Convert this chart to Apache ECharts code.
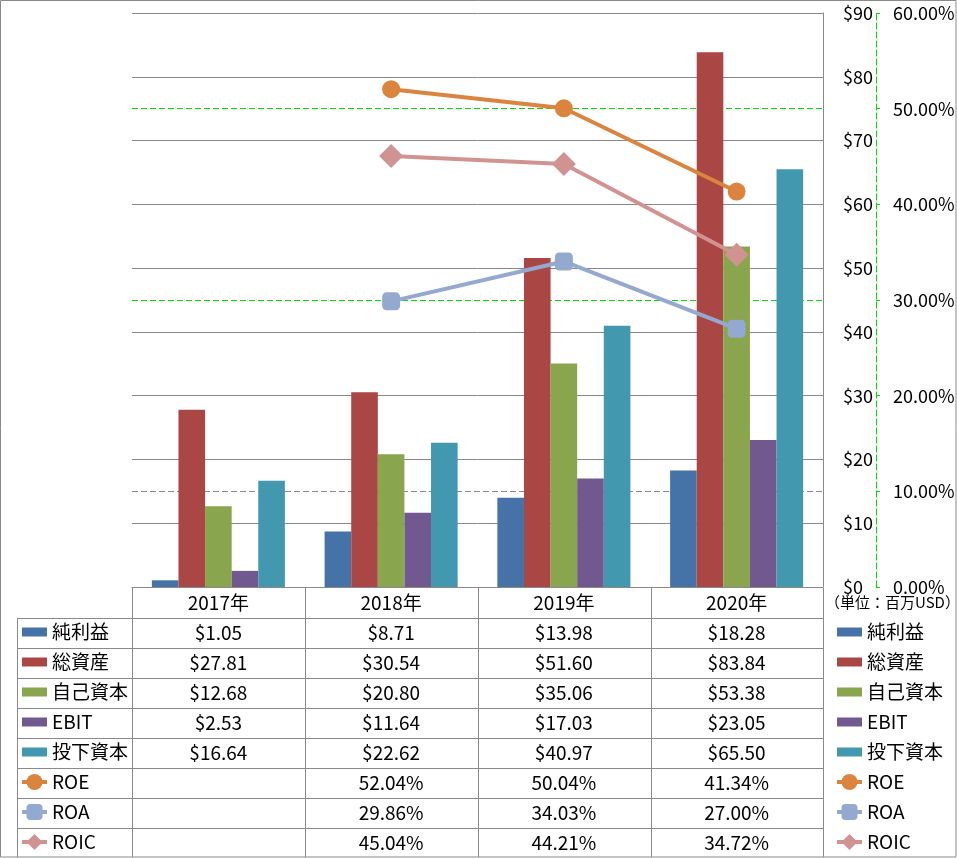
<!DOCTYPE html>
<html><head><meta charset="utf-8">
<script src="https://cdn.jsdelivr.net/npm/echarts@6/dist/echarts.min.js"></script>
<style>html,body{margin:0;padding:0;background:#fff}#c{width:957px;height:858px}</style>
</head><body><div id="c"></div>
<script>
const years = ['2017年','2018年','2019年','2020年'];
const netIncome = [1.05, 8.71, 13.98, 18.28];
const totalAssets = [27.81, 30.54, 51.60, 83.84];
const equity = [12.68, 20.80, 35.06, 53.38];
const ebit = [2.53, 11.64, 17.03, 23.05];
const investedCapital = [16.64, 22.62, 40.97, 65.50];
const roe = [null, 52.04, 50.04, 41.34];
const roa = [null, 29.86, 34.03, 27.00];
const roic = [null, 45.04, 44.21, 34.72];
const usdTicks = [0,10,20,30,40,50,60,70,80,90];
const pctTicks = [0,10,20,30,40,50,60];
const unitLabel = '（単位：百万USD）';

const FONT = '"Noto Sans CJK JP", "Noto Sans", sans-serif';
const GRAY = '#898989';
const GREEN = '#00DD00';
const colors = ['#4572A7','#AA4643','#89A54E','#71588F','#4198AF','#DB843D','#93A9CF','#D19392'];

const barSeries = [
  ['純利益', netIncome], ['総資産', totalAssets], ['自己資本', equity],
  ['EBIT', ebit], ['投下資本', investedCapital]
];
const lineSeries = [
  ['ROE', roe, 'circle', 18], ['ROA', roa, 'roundRect', 18], ['ROIC', roic, 'diamond', 24]
];

const money = v => '$' + v.toFixed(2);
const pct = v => v.toFixed(2) + '%';

function columnText(value, idx) {
  const lines = [value];
  barSeries.forEach(s => lines.push(money(s[1][idx])));
  lineSeries.forEach(s => lines.push(s[1][idx] == null ? ' ' : pct(s[1][idx])));
  return lines.join('\n');
}

const series = [];
barSeries.forEach((s, i) => series.push({
  name: s[0], type: 'bar', data: s[1], yAxisIndex: 0,
  barGap: '0%', barCategoryGap: '23%',
  itemStyle: { color: colors[i] }
}));
lineSeries.forEach((s, i) => series.push({
  name: s[0], type: 'line', data: s[1], yAxisIndex: 1,
  symbol: s[2], symbolSize: s[3], showSymbol: true, z: 5,
  lineStyle: { width: 4, color: colors[5 + i] },
  itemStyle: { color: colors[5 + i] }
}));

const allNames = barSeries.map(s => s[0]).concat(lineSeries.map(s => s[0]));
const legendData = allNames.map((n, i) => i < 5 ? { name: n, icon: 'path://M0 0H25V9H0Z' } : { name: n });

// table grid lines
const graphics = [];
const L = (x1, y1, x2, y2) => graphics.push({
  type: 'line', silent: true, z: 10,
  shape: { x1, y1, x2, y2 }, style: { stroke: GRAY, lineWidth: 1 }
});
const rowY = [618, 648, 678, 708, 738, 768, 798, 828];
rowY.forEach(y => L(17, y + 0.5, 823, y + 0.5));
L(17.5, 618, 17.5, 857);
[132, 305, 478, 651, 823].forEach(x => L(x + 0.5, 588, x + 0.5, 857));
graphics.push({ type: 'rect', silent: true, z: 10,
  shape: { x: 0.5, y: 0.5, width: 955.5, height: 856.5 },
  style: { fill: 'none', stroke: GRAY, lineWidth: 1 } });
graphics.push({ type: 'text', silent: true, left: 825, top: 595,
  style: { text: unitLabel, font: '15px ' + FONT, fill: '#000' } });

const legendCommon = {
  orient: 'vertical', top: 622, itemWidth: 25, itemHeight: 20, itemGap: 10, padding: 0,
  data: legendData, selectedMode: false,
  lineStyle: { width: 4 },
  textStyle: { fontSize: 19, fontFamily: FONT, color: '#000', lineHeight: 20 }
};

const option = {
  animation: false,
  textStyle: { fontFamily: FONT },
  grid: { left: 132, right: 134, top: 13, bottom: 271, containLabel: false, outerBoundsMode: 'none' },
  legend: [
    Object.assign({ left: 20 }, legendCommon),
    Object.assign({ left: 835 }, legendCommon)
  ],
  xAxis: {
    type: 'category', data: years,
    axisLine: { lineStyle: { color: GRAY } },
    axisTick: { show: false },
    axisLabel: {
      margin: 1, interval: 0, formatter: columnText,
      fontSize: 19, lineHeight: 30, color: '#000', fontFamily: FONT
    }
  },
  yAxis: [
    {
      type: 'value', position: 'right', min: usdTicks[0], max: usdTicks[usdTicks.length - 1], interval: 10,
      axisLine: { show: true, lineStyle: { color: GRAY } },
      axisTick: { show: false },
      axisLabel: { margin: 20, fontSize: 18, color: '#000', fontFamily: FONT, formatter: v => '$' + v },
      splitLine: { show: true, lineStyle: { color: GRAY, width: 1 } }
    },
    {
      type: 'value', position: 'right', offset: 53, min: pctTicks[0], max: pctTicks[pctTicks.length - 1], interval: 10,
      axisLine: { show: true, lineStyle: { color: GREEN, type: [6, 3] } },
      axisTick: { show: true, length: 4, lineStyle: { color: GREEN } },
      axisLabel: { margin: 17, fontSize: 18, color: '#000', fontFamily: FONT, formatter: v => v.toFixed(2) + '%' },
      splitLine: { show: true, lineStyle: {
        color: ['rgba(0,0,0,0)', GRAY, 'rgba(0,0,0,0)', GREEN, 'rgba(0,0,0,0)', GREEN, 'rgba(0,0,0,0)'],
        type: [6, 3], width: 1 } }
    }
  ],
  series: series,
  graphic: graphics
};

const chart = echarts.init(document.getElementById('c'), null, { renderer: 'canvas' });
chart.setOption(option);
</script></body></html>
